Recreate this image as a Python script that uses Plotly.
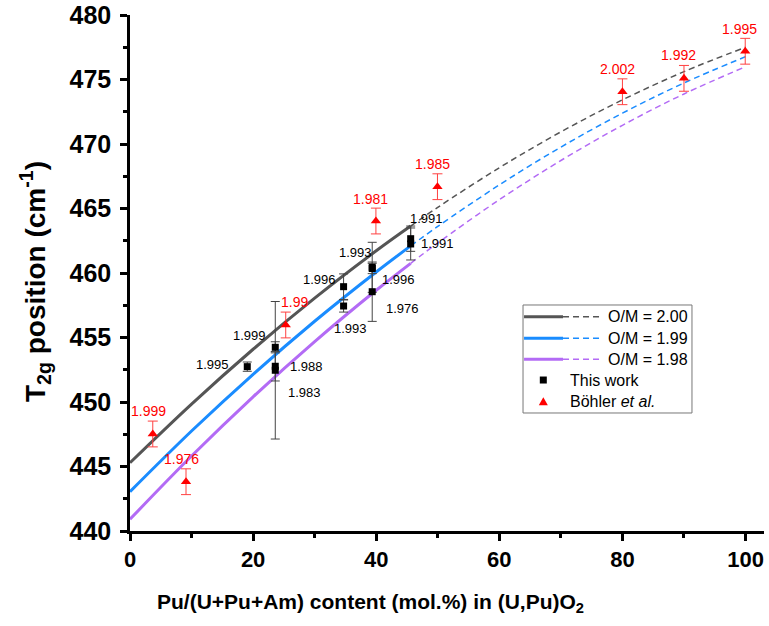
import plotly.graph_objects as go

# ---------------- data ----------------
curve_x = [0, 10, 20, 30, 40, 45.6, 50, 60, 70, 80, 90, 100]
om_200 = [445.29, 449.84, 454.09, 458.05, 461.72, 463.64, 465.09, 468.16, 470.94, 473.42, 475.61, 477.50]
om_199 = [443.05, 447.75, 452.15, 456.26, 460.08, 462.10, 463.61, 466.83, 469.76, 472.39, 474.73, 476.77]
om_198 = [440.91, 445.81, 450.40, 454.68, 458.66, 460.75, 462.33, 465.68, 468.72, 471.45, 473.88, 475.99]
om_names = ["O/M = 2.00", "O/M = 1.99", "O/M = 1.98"]
measured_limit = 45.6

work_x = [19.05, 23.6, 23.6, 23.6, 34.7, 34.7, 39.35, 39.35, 39.35, 45.6, 45.6]
work_y = [452.74, 454.24, 452.77, 452.46, 458.94, 457.44, 460.44, 460.35, 458.55, 462.66, 462.25]
work_err = [0.36, 0.43, 1.14, 5.33, 0.99, 0.47, 1.94, 0.40, 2.30, 0.98, 1.24]
work_lab = ["1.995", "1.999", "1.988", "1.983", "1.996", "1.993", "1.993", "1.996", "1.976", "1.991", "1.991"]

bohler_x = [3.7, 9.1, 25.3, 39.95, 49.95, 80.0, 90.0, 99.95]
bohler_y = [447.52, 443.82, 455.97, 464.03, 466.69, 474.05, 475.09, 477.19]
bohler_err = [1.0, 1.0, 1.0, 1.0, 1.0, 1.0, 1.0, 1.0]
bohler_lab = ["1.999", "1.976", "1.99", "1.981", "1.985", "2.002", "1.992", "1.995"]

# ---------------- styles ----------------
om_colors = ["#555555", "#1a8cff", "#b36bf5"]
work_shift = [(-35, 2), (-26, 12), (31, 0), (29, -22), (-24, 7), (7, -22),
              (-17, 15), (26, -11), (30, -17), (16, 20), (27, 0)]
bohler_shift = [(-4, 23), (-5, 23), (9, 23), (-5, 22), (-5, 23), (-5, 23), (-5, 23), (-6, 22)]
FONT = "Arial"

fig = go.Figure()

for ys, col, name in zip([om_200, om_199, om_198], om_colors, om_names):
    sx = [x for x in curve_x if x <= measured_limit]
    sy = [y for x, y in zip(curve_x, ys) if x <= measured_limit]
    dx = [x for x in curve_x if x >= measured_limit]
    dy = [y for x, y in zip(curve_x, ys) if x >= measured_limit]
    fig.add_trace(go.Scatter(x=sx, y=sy, mode="lines", name=name, showlegend=False,
                             line=dict(color=col, width=3, shape="spline")))
    fig.add_trace(go.Scatter(x=dx, y=dy, mode="lines", name=name, showlegend=False,
                             line=dict(color=col, width=1.5, dash="6px,4px", shape="spline")))

fig.add_trace(go.Scatter(x=work_x, y=work_y, mode="markers", name="This work", showlegend=False,
                         marker=dict(symbol="square", size=7, color="black"),
                         error_y=dict(type="data", array=work_err, visible=True,
                                      color="#444444", thickness=1, width=4.5)))
fig.add_trace(go.Scatter(x=bohler_x, y=bohler_y, mode="markers", name="Böhler et al.", showlegend=False,
                         marker=dict(symbol="triangle-up", size=9, color="#ff0000"),
                         error_y=dict(type="data", array=bohler_err, visible=True,
                                      color="#ff4040", thickness=1, width=5)))

ann = []
for x, y, t, (sx, sy) in zip(work_x, work_y, work_lab, work_shift):
    ann.append(dict(x=x, y=y, xref="x", yref="y", text=t, showarrow=False, xshift=sx, yshift=sy,
                    font=dict(family=FONT, size=13, color="black")))
for x, y, t, (sx, sy) in zip(bohler_x, bohler_y, bohler_lab, bohler_shift):
    ann.append(dict(x=x, y=y, xref="x", yref="y", text=t, showarrow=False, xshift=sx, yshift=sy,
                    font=dict(family=FONT, size=14, color="#ff0000")))

# axis titles
ann.append(dict(x=0.38, y=-0.1395, xref="paper", yref="paper", showarrow=False,
                text="<b>Pu/(U+Pu+Am) content (mol.%) in (U,Pu)O<sub>2</sub></b>",
                font=dict(family=FONT, size=21, color="black"), xanchor="center", yanchor="middle"))
ann.append(dict(x=-0.1498, y=0.4826, xref="paper", yref="paper", showarrow=False, textangle=-90,
                text="<b>T<sub>2g</sub> position (cm<sup>-1</sup>)</b>",
                font=dict(family=FONT, size=28, color="black"), xanchor="center", yanchor="middle"))

# ---------------- custom legend ----------------
shapes = [dict(type="rect", xref="paper", yref="paper", x0=0.6199, x1=0.8864, y0=0.2287, y1=0.438,
               line=dict(color="#777777", width=1), fillcolor="white", layer="above")]
row_y = [0.4153, 0.3734, 0.3328, 0.2926, 0.2506]
for i, (col, name) in enumerate(zip(om_colors, om_names)):
    shapes.append(dict(type="line", xref="paper", yref="paper", x0=0.6215, x1=0.6830,
                       y0=row_y[i], y1=row_y[i], line=dict(color=col, width=3), layer="above"))
    shapes.append(dict(type="line", xref="paper", yref="paper", x0=0.6830, x1=0.7445,
                       y0=row_y[i], y1=row_y[i], line=dict(color=col, width=1.5, dash="6px,4px"),
                       layer="above"))
    ann.append(dict(x=0.7508, y=row_y[i], xref="paper", yref="paper", text=name, showarrow=False,
                    xanchor="left", yanchor="middle", font=dict(family=FONT, size=16, color="black")))
shapes.append(dict(type="rect", xref="paper", yref="paper", xsizemode="pixel", ysizemode="pixel",
                   xanchor=0.6519, yanchor=row_y[3], x0=-3.5, x1=3.5, y0=-3.5, y1=3.5,
                   fillcolor="black", line=dict(width=0), layer="above"))
shapes.append(dict(type="path", xref="paper", yref="paper", xsizemode="pixel", ysizemode="pixel",
                   xanchor=0.6519, yanchor=row_y[4], path="M -4.5 -3.5 L 4.5 -3.5 L 0 4.5 Z",
                   fillcolor="#ff0000", line=dict(width=0), layer="above"))
ann.append(dict(x=0.6912, y=row_y[3], xref="paper", yref="paper", text="This work", showarrow=False,
                xanchor="left", yanchor="middle", font=dict(family=FONT, size=16, color="black")))
ann.append(dict(x=0.6912, y=row_y[4], xref="paper", yref="paper", text="Böhler <i>et al.</i>",
                showarrow=False, xanchor="left", yanchor="middle",
                font=dict(family=FONT, size=16, color="black")))

axis_common = dict(showline=True, linecolor="black", linewidth=2.5, ticks="outside", ticklen=7,
                   tickwidth=2.5, tickcolor="black", showgrid=False, zeroline=False, mirror=False,
                   automargin=False, ticklabeloverflow="allow")
fig.update_xaxes(range=[0, 103], dtick=20, tick0=0, ticklabelstandoff=0,
                 minor=dict(dtick=10, ticks="outside", ticklen=4, tickwidth=2.5, tickcolor="black"),
                 tickfont=dict(family=FONT, size=22, color="black", weight="bold"), **axis_common)
fig.update_yaxes(range=[440, 480], dtick=5, tick0=440, ticklabelstandoff=4,
                 minor=dict(dtick=2.5, ticks="outside", ticklen=4, tickwidth=2.5, tickcolor="black"),
                 tickfont=dict(family=FONT, size=25, color="black", weight="bold"), **axis_common)

fig.update_layout(width=769, height=626, margin=dict(l=130, r=5, t=15, b=95),
                  paper_bgcolor="white", plot_bgcolor="white", showlegend=False,
                  annotations=ann, shapes=shapes)

# remove the default page margin so the 769x626 figure fills the window exactly
fig.write_html("out.html", config={"displayModeBar": False},
               post_script="document.body.style.margin='0';")
